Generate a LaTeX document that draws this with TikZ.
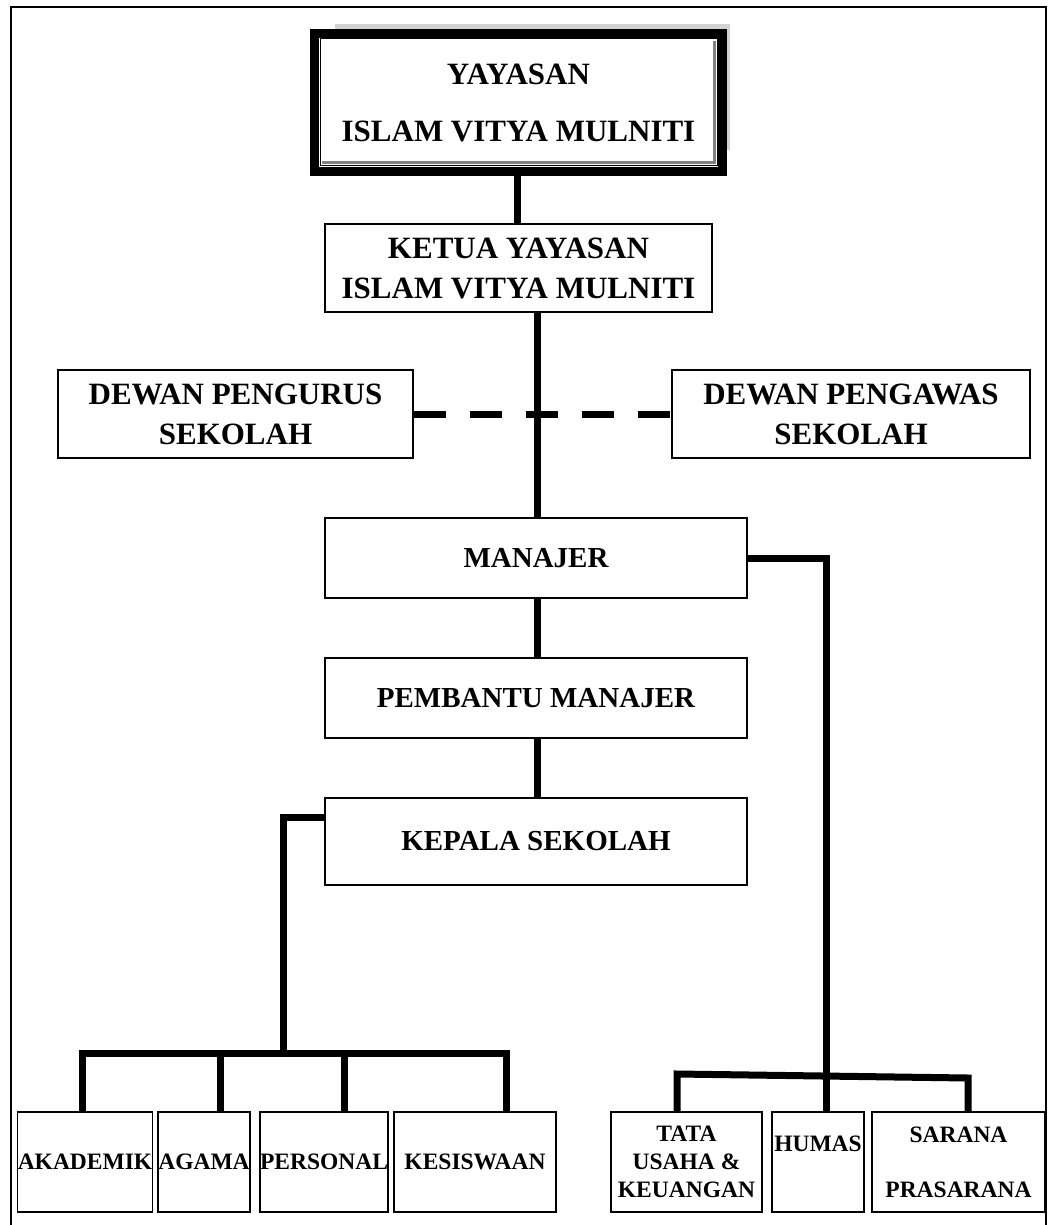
\documentclass[tikz,border=0pt]{standalone}
\usepackage{fontspec}
\setmainfont{Liberation Serif}
\usepackage{tikz}

\begin{document}
\begin{tikzpicture}[x=1pt, y=-1pt,
  box/.style = {draw, line width=1.4pt, fill=white, inner sep=0, align=center, font=\fontsize{29}{40}\selectfont\bfseries},
  bigbox/.style = {box, font=\fontsize{31}{40}\selectfont\bfseries},
  unit/.style = {draw, line width=1.4pt, fill=white, inner sep=0, align=center, minimum height=100pt, font=\fontsize{23.5}{28}\selectfont\bfseries},
  link/.style = {line width=7pt}]
	\useasboundingbox (0,0) rectangle (1048,1225);
	\draw[line width=1.5pt] (11,1225) -- (11,7) -- (1046,7) -- (1046,1225);
	\fill[gray!35] (335,24) rectangle (730,150);
	\node[bigbox, line width=9pt, minimum width=408pt, minimum height=138pt, font=\fontsize{31}{57}\selectfont\bfseries] (yayasan) at (518.5,102.5) {YAYASAN\\ISLAM VITYA MULNITI};
	\draw[line width=1pt] ([shift={(10,10)}]yayasan.north west) rectangle ([shift={(-10,-10)}]yayasan.south east);
	\draw[gray, line width=3pt] ([shift={(-13,12)}]yayasan.north east) -- ([shift={(-13,-13)}]yayasan.south east) -- ([shift={(12,-13)}]yayasan.south west);
	\node[bigbox, minimum width=387pt, minimum height=88pt] (ketua) at (518.5,268) {KETUA YAYASAN\\ISLAM VITYA MULNITI};
	\node[bigbox, minimum width=355pt, minimum height=88pt] (pengurus) at (235.5,414) {DEWAN PENGURUS\\SEKOLAH};
	\node[bigbox, minimum width=358pt, minimum height=88pt] (pengawas) at (851,414) {DEWAN PENGAWAS\\SEKOLAH};
	\node[box, minimum width=422pt, minimum height=80pt] (manajer) at (536,558) {MANAJER};
	\node[box, minimum width=422pt, minimum height=80pt] (pembantu) at (536,698) {PEMBANTU MANAJER};
	\node[box, minimum width=422pt, minimum height=87pt] (kepala) at (536,841.5) {KEPALA SEKOLAH};
	\node[unit, minimum width=134pt] (akademik) at (85,1162) {AKADEMIK};
	\node[unit, minimum width=92pt] (agama) at (204,1162) {AGAMA};
	\node[unit, minimum width=124pt] (personal) at (324,1162) {PERSONAL};
	\node[unit, minimum width=162pt] (kesiswaan) at (475,1162) {KESISWAAN};
	\node[unit, minimum width=151pt] (tu) at (686.5,1162) {TATA\\USAHA \&\\KEUANGAN};
	\node[unit, minimum width=92pt] (humas) at (818,1162) {HUMAS\\\strut};
	\node[unit, minimum width=173pt] (sarana) at (958.5,1162) {SARANA\\[27pt]PRASARANA};
	\coordinate (top) at (517,0);
	\coordinate (spine) at (537,0);
	\coordinate (l1) at (82,1053);
	\coordinate (l2) at (220,1053);
	\coordinate (l3) at (344,1053);
	\coordinate (l4) at (506,1053);
	\coordinate (lbar) at (283,1053);
	\coordinate (r1) at (677,1074);
	\coordinate (r2) at (826,1076);
	\coordinate (r3) at (968,1078);
	\draw[link] (yayasan.south -| top) -- (ketua.north -| top);
	\draw[link] (ketua.south -| spine) -- (manajer.north -| spine);
	\draw[link, dash pattern=on 32pt off 24pt] (pengurus.east) -- (pengawas.west);
	\draw[link] (manajer.south -| spine) -- (pembantu.north -| spine);
	\draw[link] (pembantu.south -| spine) -- (kepala.north -| spine);
	\draw[link] (manajer.east) -| (humas.north -| r2);
	\draw[link] (kepala.north west) ++(0,20) -| (lbar);
	\draw[link] (akademik.north -| l1) -- (l1) -- (l4) -- (kesiswaan.north -| l4);
	\draw[link] (agama.north -| l2) -- (l2);
	\draw[link] (personal.north -| l3) -- (l3);
	\draw[link] (tu.north -| r1) -- (r1) -- (r3) -- (sarana.north -| r3);
\end{tikzpicture}
\end{document}
